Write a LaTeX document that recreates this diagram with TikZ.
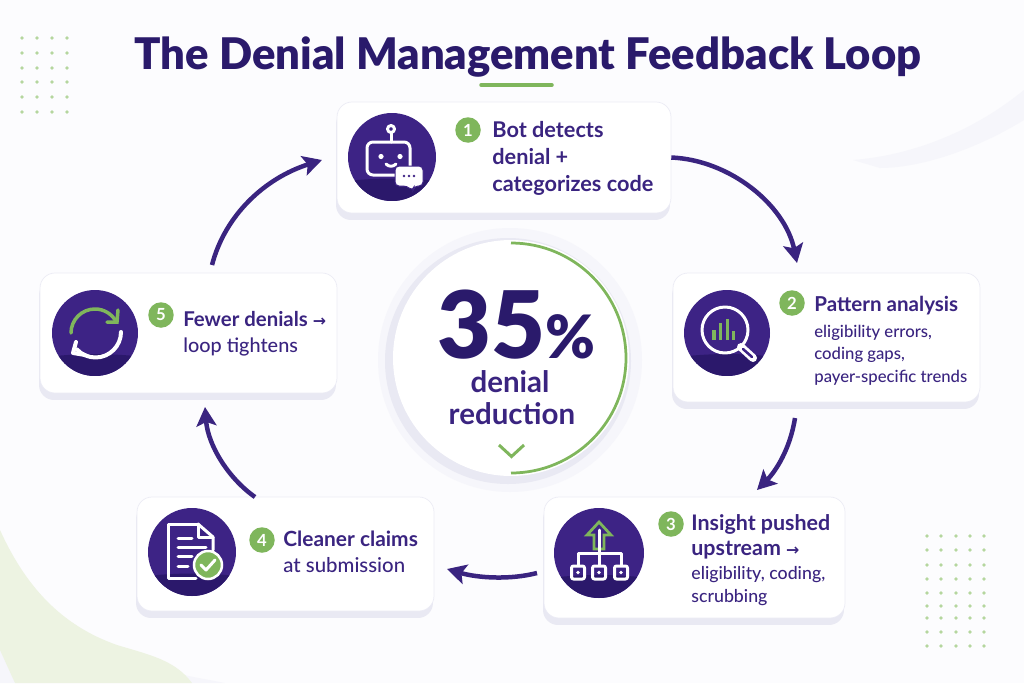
\documentclass[tikz,border=0pt]{standalone}
\usepackage{fontspec}
\setmainfont{Lato Medium}[BoldFont=Lato Bold]
\newfontfamily\heavyfont{Lato Black}
\newfontfamily\symfont{DejaVu Sans}
\usepackage{tikz}
\usetikzlibrary{calc,arrows.meta}
\definecolor{pagebg}{HTML}{FCFCFE}
\definecolor{inkdark}{HTML}{2A1A6B}
\definecolor{inktext}{HTML}{3A2480}
\definecolor{iconup}{HTML}{3D2385}
\definecolor{iconlow}{HTML}{2B186B}
\definecolor{leaf}{HTML}{7FB65C}
\definecolor{leafpale}{HTML}{EDF3E2}
\definecolor{leafdot}{HTML}{B5D69E}
\definecolor{haze}{HTML}{F6F6FB}
\definecolor{halo}{HTML}{E9E9F3}
\definecolor{cardedge}{HTML}{ECECF5}
\newcommand{\cardfont}{\fontsize{9.5}{12.75}\selectfont}
\newcommand{\headfont}[1]{\fontsize{#1}{12.75}\selectfont\bfseries}
\newcommand{\rarrow}{{\symfont\fontsize{9}{10}\selectfont →}}
\tikzset{
	cardbox/.style={rectangle,rounded corners=0.3cm,draw=cardedge,fill=white,inner sep=0pt,
		preaction={draw=none,fill=halo,transform canvas={yshift=-0.14cm,xshift=-0.02cm}}},
	iconbg/.style={circle,fill=iconup,inner sep=0pt,minimum size=#1,
		path picture={\fill[iconlow] (path picture bounding box.south west) -- ($(path picture bounding box.south west)!.23!(path picture bounding box.north west)$) to[bend left=5] ($(path picture bounding box.south east)!.23!(path picture bounding box.north east)$) -- (path picture bounding box.south east) -- cycle;}},
	badge/.style={circle,fill=leaf,text=white,inner sep=0pt,minimum size=0.51cm,font=\fontsize{9.5}{10}\selectfont\bfseries},
	cardtext/.style={anchor=base west,align=left,inner sep=0pt,text=inktext,font=\cardfont},
	flowarrow/.style={line width=0.09cm,inktext,-{Stealth[length=0.38cm,width=0.40cm,inset=0.08cm]}},
	iconline/.style={white,line width=0.06cm,line cap=round,line join=round},
	iconleaf/.style={leaf,line width=0.07cm,line cap=round,line join=miter},
	leafdots/.style={fill=leafdot,draw=none}
}
\begin{document}
\begin{tikzpicture}[x=0.02cm,y=0.02cm,yscale=-1]
	\fill[pagebg] (0,0) rectangle (1024,683);
	\useasboundingbox (0,0) rectangle (1024,683);
	% soft corners
	\fill[haze] (853,160) .. controls (915,155) and (975,130) .. (1024,90) -- (1024,120) .. controls (975,150) and (920,168) .. (880,168) -- cycle;
	\fill[haze] (0,640) -- (225,683) -- (0,683) -- cycle;
	\fill[leafpale] (0,530) .. controls (25,585) and (60,625) .. (117,645) .. controls (150,655) and (175,660) .. (192,683) -- (15,683) -- (0,650) -- cycle;
	\foreach \i in {22,37,52,67}
		\foreach \j in {38,53,68,82,97,112}
			\fill[leafdots] (\i,\j) circle (1.9);
	\foreach \i in {927,941,956,970,984}
		\foreach \j in {536,550,565,579,593,606,618,632,646}
			\fill[leafdots] (\i,\j) circle (1.9);
	% title
	\node[inkdark,font=\fontsize{24.8}{30}\selectfont\heavyfont,anchor=base] (title) at (528,69) {The Denial Management Feedback Loop};
	\draw[leaf,line width=0.07cm,line cap=round] (481,85) -- (552,85);
	% cards
	\node[cardbox,minimum width=6.68cm,minimum height=2.22cm] (card1) at (504,157.5) {};
	\node[cardbox,minimum width=6.14cm,minimum height=2.58cm] (card2) at (826.5,337.5) {};
	\node[cardbox,minimum width=6.02cm,minimum height=2.42cm] (card3) at (694.5,557.5) {};
	\node[cardbox,minimum width=5.94cm,minimum height=2.28cm] (card4) at (285.5,554) {};
	\node[cardbox,minimum width=5.94cm,minimum height=2.40cm] (card5) at (188.5,333) {};
	% center
	\fill[haze] (510,360) circle (132);
	\fill[halo] (508,361) circle (123);
	\node[circle,fill=white,inner sep=0pt,minimum size=4.72cm] (hub) at (511,358) {};
	\draw[leaf,line width=0.055cm] (511,243) arc (-90:90:115);
	\node[inkdark,anchor=base,inner sep=0pt,font=\fontsize{53}{58}\selectfont\heavyfont] (pct) at (516,358) {35{\fontsize{34}{40}\selectfont\%}};
	\node[inktext,anchor=base,inner sep=0pt,font=\fontsize{16.8}{20}\selectfont\bfseries] (hubone) at (510,392) {denial};
	\node[inktext,anchor=base,inner sep=0pt,font=\fontsize{16.8}{20}\selectfont\bfseries] (hubtwo) at (512,424) {reduction};
	\draw[leaf,line width=0.06cm] (499,445) -- (511.5,456.5) -- (524,445);
	% connector ends
	\coordinate (out2) at (795,418);
	\coordinate (in2) at (797,263);
	\coordinate (in3) at (757,490);
	\coordinate (out3) at (537,573);
	\coordinate (in4) at (447,569);
	\coordinate (out4) at (255,497);
	\coordinate (in5) at (205,407);
	\coordinate (out5) at (212,265);
	\coordinate (in1) at (322,160);
	\draw[flowarrow] (card1.east) .. controls (730,160) and (785,205) .. (in2);
	\draw[flowarrow] (out2) .. controls (790,450) and (775,472) .. (in3);
	\draw[flowarrow] (out3) .. controls (510,580) and (478,578) .. (in4);
	\draw[flowarrow] (out4) .. controls (228,478) and (208,445) .. (in5);
	\draw[flowarrow] (out5) .. controls (225,215) and (265,178) .. (in1);
	% icon discs
	\node[iconbg=1.76cm] (disc1) at (392,157) {};
	\node[iconbg=1.72cm] (disc2) at (727,333) {};
	\node[iconbg=1.80cm] (disc3) at (599,553) {};
	\node[iconbg=1.76cm] (disc4) at (192,552) {};
	\node[iconbg=1.72cm] (disc5) at (95,333) {};
	% bot
	\draw[iconline,rounded corners=0.12cm] (395,175) -- (367,175) -- (367,142) -- (410,142) -- (410,166);
	\draw[iconline] (391,142) -- (391,133);
	\draw[iconline] (391,129) circle (3.5);
	\fill[white] (381,156.5) circle (2.6) (400,156.5) circle (2.6);
	\draw[iconline] (386,164) .. controls (389,167) and (393,167) .. (396,164);
	\fill[white,draw=iconup,line width=0.02cm,rounded corners=0.08cm] (395,166) -- (423,166) -- (423,186) -- (414,186) -- (413,191) -- (407,186) -- (395,186) -- cycle;
	\fill[iconup] (404,176) circle (1.4) (409,176) circle (1.4) (414,176) circle (1.4);
	% magnifier
	\draw[iconline] (725,330) circle (23);
	\foreach \i/\j/\k in {714/330/leaf,720.7/323/leaf,727.7/319/leaf,733.7/331/leaf}
		\draw[\k,line width=0.065cm] (\i,340) -- (\i,\j);
	\draw[white,line width=0.16cm,line cap=round] (741,347) -- (753,358);
	\draw[iconup,line width=0.05cm,line cap=round] (743,349) -- (752,357);
	% hierarchy
	\draw[iconleaf,line width=0.055cm] (599,522) -- (587,535) -- (594,535) -- (594,549) -- (604,549) -- (604,535) -- (611,535) -- cycle;
	\draw[iconline] (599,530) -- (599,565);
	\draw[iconline] (578,565) -- (578,553) -- (621,553) -- (621,565);
	\foreach \i in {578,599,621} {
		\draw[iconline,rounded corners=0.04cm] (\i-6.5,566) rectangle (\i+6.5,579);
		\fill[white] (\i,572.5) circle (1.8);
	}
	% document
	\draw[iconline] (198,524) -- (168,524) -- (168,578) -- (196,578);
	\draw[iconline] (198,524) -- (213,537) -- (213,550);
	\draw[iconline] (198,524) -- (198,537) -- (213,537);
	\draw[iconline] (178,538) -- (192,538);
	\draw[iconline] (178,547) -- (206,547);
	\draw[iconline] (178,556) -- (192,556);
	\draw[iconline] (178,566) -- (188,566);
	\fill[leaf,draw=white,line width=0.05cm] (208,565) circle (14);
	\draw[iconline] (201,565) -- (206,570) -- (215,560);
	% refresh
	\draw[iconleaf,line cap=round] (71,333) arc (180:330:24);
	\draw[iconleaf] (118,310) -- (117,322) -- (107,322);
	\draw[iconline,line width=0.08cm] (121,332) arc (0:137:25.5);
	\draw[iconline,line width=0.08cm] (76,342) -- (73,353) -- (85,355);
	% badges
	\node[badge] (num1) at (468,130) {1};
	\node[badge] (num2) at (792,303) {2};
	\node[badge] (num3) at (671,524) {3};
	\node[badge] (num4) at (262,540) {4};
	\node[badge] (num5) at (161,315) {5};
	% card texts
	\node[cardtext] (text1) at (492,191) {{\headfont{12.35}Bot detects}\\[2.55pt]{\headfont{12.35}denial +}\\[2.55pt]{\headfont{12.35}categorizes code}};
	\node[cardtext] (text2) at (814,382) {{\headfont{11.7}Pattern analysis}\\[2pt]eligibility errors,\\coding gaps,\\payer-specific trends};
	\node[cardtext] (text3) at (691,602) {{\headfont{12.2}Insight pushed}\\[1.5pt]{\headfont{12.2}upstream \rarrow}\\[1pt]{\fontsize{10.1}{12.75}\selectfont eligibility, coding,}\\{\fontsize{10.1}{12.75}\selectfont scrubbing}};
	\node[cardtext] (text4) at (283,572) {{\headfont{11.9}Cleaner claims}\\[1.5pt]{\fontsize{11.6}{12.75}\selectfont at submission}};
	\node[cardtext] (text5) at (183,352) {{\headfont{11.6}Fewer denials \rarrow}\\[2pt]{\fontsize{11.3}{12.75}\selectfont loop tightens}};
\end{tikzpicture}
\end{document}
